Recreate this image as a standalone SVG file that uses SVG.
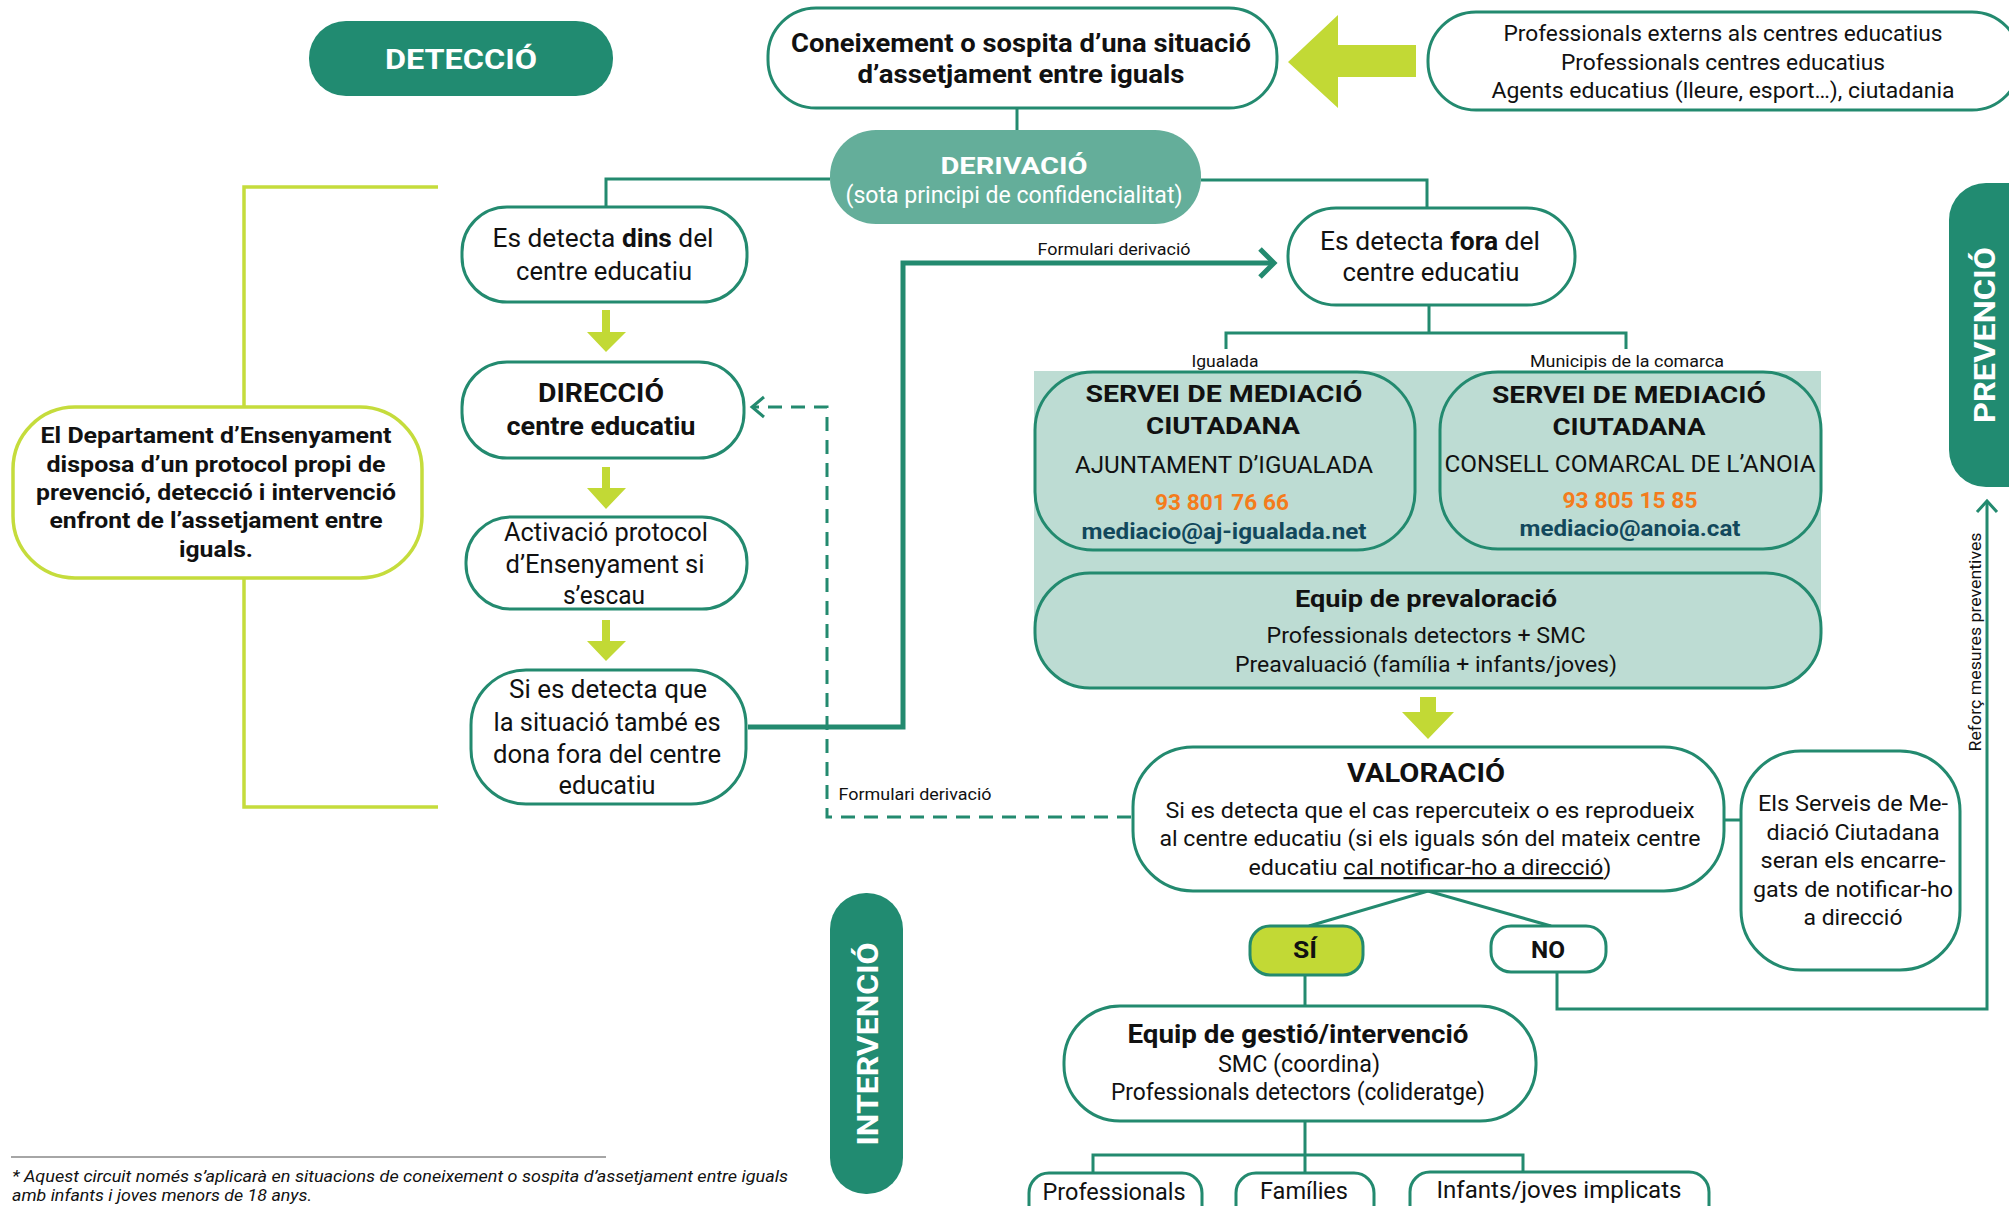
<svg xmlns="http://www.w3.org/2000/svg" width="2009" height="1206" viewBox="0 0 2009 1206">
<style>
.box{fill:#fff;stroke:#238a6f;stroke-width:3}
.bgf{fill:#bddcd3}
.boxbg{fill:#bddcd3;stroke:#238a6f;stroke-width:3}
.conn{fill:none;stroke:#238a6f;stroke-width:3}
.thick{fill:none;stroke:#238a6f;stroke-width:5}
.dash{fill:none;stroke:#238a6f;stroke-width:3;stroke-dasharray:14 9}
.lime{fill:#c2d935}
.bracket{fill:none;stroke:#c5dc3c;stroke-width:3.5}
.dark{fill:#218b71}
.mid{fill:#64ae9a}
text{font-family:Roboto,'Liberation Sans',sans-serif;fill:#111;text-anchor:middle}
.b{font-weight:700}
.w{fill:#fff}
.or{fill:#f47c1c}
.em{fill:#12485c}
.lbl{font-size:17px}
</style>

<g id="bracket">
<path class="bracket" d="M438,187 H244 V407 M244,578 V807 H438"/>
</g>

<g id="connectors">
<path class="conn" d="M1017,108 V130"/>
<path class="conn" d="M830,179 H606 V207"/>
<path class="conn" d="M1201,180 H1427 V208"/>
<path class="conn" d="M1429,305 V333 M1226,349 V333 H1626 V349"/>
<path class="conn" d="M1309,926 L1428,891 L1551,926"/>
<path class="conn" d="M1305,975 V1006"/>
<path class="conn" d="M1305,1121 V1173 M1093,1173 V1155 H1523 V1173"/>
<path class="conn" d="M1725,820 H1741"/>
<path class="conn" d="M1557,972 V1009 H1987 V503"/>
<path class="conn" d="M1977,512 L1987,501 L1997,512"/>
<path class="thick" d="M748,727 H903 V263 H1272"/>
<path class="thick" d="M1260,249 L1274,263 L1260,277"/>
<path class="dash" d="M1131,817 H827 V407 H754"/>
<path class="conn" d="M764,397 L752,407 L764,417"/>
<text class="lbl" x="1114" y="255" textLength="153" lengthAdjust="spacingAndGlyphs">Formulari derivació</text>
<text class="lbl" x="915" y="800" textLength="153" lengthAdjust="spacingAndGlyphs">Formulari derivació</text>
<text class="lbl" x="1225" y="367" textLength="67" lengthAdjust="spacingAndGlyphs">Igualada</text>
<text class="lbl" x="1627" y="367" textLength="194" lengthAdjust="spacingAndGlyphs">Municipis de la comarca</text>
<text class="lbl" transform="translate(1981,642) rotate(-90)" x="0" y="0" textLength="219" lengthAdjust="spacingAndGlyphs">Reforç mesures preventives</text>
<polygon class="lime" points="1288,62 1338,15 1338,45 1416,45 1416,77 1338,77 1338,108"/>
<polygon class="lime" points="602,310 610,310 610,332 626,332 606,352 587,332 602,332"/>
<polygon class="lime" points="602,467 610,467 610,488 626,488 606,509 587,488 602,488"/>
<polygon class="lime" points="602,620 610,620 610,641 626,641 606,661 587,641 602,641"/>
<polygon class="lime" points="1420,697 1436,697 1436,712 1454,712 1428,739 1402,712 1420,712"/>
</g>

<g id="detectio">
<rect class="dark" x="309" y="21" width="304" height="75" rx="37"/>
<text class="b w" x="461" y="69" font-size="28" textLength="152" lengthAdjust="spacingAndGlyphs">DETECCIÓ</text>
</g>

<g id="coneixement">
<rect class="box" x="768" y="8" width="509" height="100" rx="48"/>
<text class="b" x="1021" y="52" font-size="26" textLength="460" lengthAdjust="spacingAndGlyphs">Coneixement o sospita d’una situació</text>
<text class="b" x="1021" y="83" font-size="26" textLength="327" lengthAdjust="spacingAndGlyphs">d’assetjament entre iguals</text>
</g>

<g id="professionals">
<rect class="box" x="1428" y="12" width="592" height="98" rx="48"/>
<text x="1723" y="41" font-size="22" textLength="439" lengthAdjust="spacingAndGlyphs">Professionals externs als centres educatius</text>
<text x="1723" y="70" font-size="22" textLength="324" lengthAdjust="spacingAndGlyphs">Professionals centres educatius</text>
<text x="1723" y="98" font-size="22" textLength="463" lengthAdjust="spacingAndGlyphs">Agents educatius (lleure, esport…), ciutadania</text>
</g>

<g id="derivacio">
<rect class="mid" x="830" y="130" width="371" height="94" rx="46"/>
<text class="b w" x="1014" y="174" font-size="24" textLength="147" lengthAdjust="spacingAndGlyphs">DERIVACIÓ</text>
<text class="w" x="1014" y="203" font-size="23" textLength="337" lengthAdjust="spacingAndGlyphs">(sota principi de confidencialitat)</text>
</g>

<g id="dins">
<rect class="box" x="462" y="207" width="285" height="95" rx="45"/>
<text x="603" y="247" font-size="25" textLength="221" lengthAdjust="spacingAndGlyphs">Es detecta <tspan class="b">dins</tspan> del</text>
<text x="604" y="280" font-size="25" textLength="176" lengthAdjust="spacingAndGlyphs">centre educatiu</text>
</g>

<g id="direccio">
<rect class="box" x="462" y="362" width="282" height="96" rx="45"/>
<text class="b" x="601" y="402" font-size="25" textLength="126" lengthAdjust="spacingAndGlyphs">DIRECCIÓ</text>
<text class="b" x="601" y="435" font-size="25" textLength="189" lengthAdjust="spacingAndGlyphs">centre educatiu</text>
</g>

<g id="activacio">
<rect class="box" x="466" y="517" width="281" height="92" rx="45"/>
<text x="606" y="541" font-size="25" textLength="204" lengthAdjust="spacingAndGlyphs">Activació protocol</text>
<text x="605" y="573" font-size="25" textLength="199" lengthAdjust="spacingAndGlyphs">d’Ensenyament si</text>
<text x="604" y="604" font-size="25" textLength="82" lengthAdjust="spacingAndGlyphs">s’escau</text>
</g>

<g id="fora-tambe">
<rect class="box" x="471" y="670" width="275" height="134" rx="55"/>
<text x="608" y="698" font-size="25" textLength="198" lengthAdjust="spacingAndGlyphs">Si es detecta que</text>
<text x="607" y="731" font-size="25" textLength="227" lengthAdjust="spacingAndGlyphs">la situació també es</text>
<text x="607" y="763" font-size="25" textLength="228" lengthAdjust="spacingAndGlyphs">dona fora del centre</text>
<text x="607" y="794" font-size="25" textLength="97" lengthAdjust="spacingAndGlyphs">educatiu</text>
</g>

<g id="departament">
<rect x="13" y="407" width="409" height="171" rx="62" fill="#fff" stroke="#c5dc3c" stroke-width="3.5"/>
<text class="b" x="216" y="443" font-size="22" textLength="351" lengthAdjust="spacingAndGlyphs">El Departament d’Ensenyament</text>
<text class="b" x="216" y="472" font-size="22" textLength="339" lengthAdjust="spacingAndGlyphs">disposa d’un protocol propi de</text>
<text class="b" x="216" y="500" font-size="22" textLength="360" lengthAdjust="spacingAndGlyphs">prevenció, detecció i intervenció</text>
<text class="b" x="216" y="528" font-size="22" textLength="333" lengthAdjust="spacingAndGlyphs">enfront de l’assetjament entre</text>
<text class="b" x="216" y="557" font-size="22" textLength="74" lengthAdjust="spacingAndGlyphs">iguals.</text>
</g>

<g id="fora">
<rect class="box" x="1288" y="208" width="287" height="97" rx="48"/>
<text x="1430" y="250" font-size="25" textLength="220" lengthAdjust="spacingAndGlyphs">Es detecta <tspan class="b">fora</tspan> del</text>
<text x="1431" y="281" font-size="25" textLength="177" lengthAdjust="spacingAndGlyphs">centre educatiu</text>
</g>

<g id="smc-zone">
<rect class="bgf" x="1034" y="371" width="787" height="262"/>
</g>

<g id="smc-igualada">
<rect class="boxbg" x="1035" y="372" width="380" height="178" rx="58"/>
<text class="b" x="1224" y="402" font-size="24" textLength="277" lengthAdjust="spacingAndGlyphs">SERVEI DE MEDIACIÓ</text>
<text class="b" x="1223" y="434" font-size="24" textLength="154" lengthAdjust="spacingAndGlyphs">CIUTADANA</text>
<text x="1224" y="473" font-size="23" textLength="298" lengthAdjust="spacingAndGlyphs">AJUNTAMENT D’IGUALADA</text>
<text class="b or" x="1222" y="510" font-size="22" textLength="134" lengthAdjust="spacingAndGlyphs">93 801 76 66</text>
<text class="b em" x="1224" y="539" font-size="22" textLength="285" lengthAdjust="spacingAndGlyphs">mediacio@aj-igualada.net</text>
</g>

<g id="smc-anoia">
<rect class="boxbg" x="1440" y="372" width="381" height="177" rx="58"/>
<text class="b" x="1629" y="403" font-size="24" textLength="274" lengthAdjust="spacingAndGlyphs">SERVEI DE MEDIACIÓ</text>
<text class="b" x="1629" y="435" font-size="24" textLength="153" lengthAdjust="spacingAndGlyphs">CIUTADANA</text>
<text x="1630" y="472" font-size="23" textLength="371" lengthAdjust="spacingAndGlyphs">CONSELL COMARCAL DE L’ANOIA</text>
<text class="b or" x="1630" y="508" font-size="22" textLength="135" lengthAdjust="spacingAndGlyphs">93 805 15 85</text>
<text class="b em" x="1630" y="536" font-size="22" textLength="221" lengthAdjust="spacingAndGlyphs">mediacio@anoia.cat</text>
</g>

<g id="prevaloracio">
<rect class="boxbg" x="1035" y="573" width="786" height="115" rx="55"/>
<text class="b" x="1426" y="607" font-size="24" textLength="262" lengthAdjust="spacingAndGlyphs">Equip de prevaloració</text>
<text x="1426" y="643" font-size="22" textLength="319" lengthAdjust="spacingAndGlyphs">Professionals detectors + SMC</text>
<text x="1426" y="672" font-size="22" textLength="382" lengthAdjust="spacingAndGlyphs">Preavaluació (família + infants/joves)</text>
</g>

<g id="valoracio">
<rect class="box" x="1133" y="747" width="591" height="144" rx="60"/>
<text class="b" x="1426" y="782" font-size="25" textLength="158" lengthAdjust="spacingAndGlyphs">VALORACIÓ</text>
<text x="1430" y="818" font-size="22" textLength="529" lengthAdjust="spacingAndGlyphs">Si es detecta que el cas repercuteix o es reprodueix</text>
<text x="1430" y="846" font-size="22" textLength="541" lengthAdjust="spacingAndGlyphs">al centre educatiu (si els iguals són del mateix centre</text>
<text x="1430" y="875" font-size="22" textLength="363" lengthAdjust="spacingAndGlyphs">educatiu <tspan text-decoration="underline">cal notificar-ho a direcció</tspan>)</text>
</g>

<g id="serveis-notificar">
<rect class="box" x="1741" y="751" width="219" height="219" rx="60"/>
<text x="1853" y="811" font-size="22" textLength="190" lengthAdjust="spacingAndGlyphs">Els Serveis de Me-</text>
<text x="1853" y="840" font-size="22" textLength="173" lengthAdjust="spacingAndGlyphs">diació Ciutadana</text>
<text x="1853" y="868" font-size="22" textLength="185" lengthAdjust="spacingAndGlyphs">seran els encarre-</text>
<text x="1853" y="897" font-size="22" textLength="200" lengthAdjust="spacingAndGlyphs">gats de notificar-ho</text>
<text x="1853" y="925" font-size="22" textLength="99" lengthAdjust="spacingAndGlyphs">a direcció</text>
</g>

<g id="si">
<rect x="1250" y="926" width="113" height="49" rx="20" fill="#c2d935" stroke="#238a6f" stroke-width="3"/>
<text class="b" x="1305" y="958" font-size="24" textLength="24" lengthAdjust="spacingAndGlyphs">SÍ</text>
</g>

<g id="no">
<rect class="box" x="1491" y="926" width="115" height="46" rx="20"/>
<text class="b" x="1548" y="958" font-size="24" textLength="34" lengthAdjust="spacingAndGlyphs">NO</text>
</g>

<g id="gestio">
<rect class="box" x="1064" y="1006" width="472" height="115" rx="56"/>
<text class="b" x="1298" y="1043" font-size="25" textLength="341" lengthAdjust="spacingAndGlyphs">Equip de gestió/intervenció</text>
<text x="1299" y="1072" font-size="23" textLength="162" lengthAdjust="spacingAndGlyphs">SMC (coordina)</text>
<text x="1298" y="1100" font-size="23" textLength="374" lengthAdjust="spacingAndGlyphs">Professionals detectors (colideratge)</text>
</g>

<g id="professionals-b">
<rect class="box" x="1029" y="1173" width="173" height="60" rx="20"/>
<text x="1114" y="1200" font-size="24" textLength="143" lengthAdjust="spacingAndGlyphs">Professionals</text>
</g>
<g id="families">
<rect class="box" x="1236" y="1173" width="138" height="60" rx="20"/>
<text x="1304" y="1199" font-size="24" textLength="88" lengthAdjust="spacingAndGlyphs">Famílies</text>
</g>
<g id="infants">
<rect class="box" x="1410" y="1172" width="299" height="60" rx="20"/>
<text x="1559" y="1198" font-size="24" textLength="245" lengthAdjust="spacingAndGlyphs">Infants/joves implicats</text>
</g>

<g id="intervencio">
<rect class="dark" x="830" y="893" width="73" height="301" rx="36"/>
<text class="b w" transform="translate(867,1044) rotate(-90)" x="0" y="11" font-size="30" textLength="203" lengthAdjust="spacingAndGlyphs">INTERVENCIÓ</text>
</g>

<g id="prevencio">
<rect class="dark" x="1949" y="183" width="100" height="304" rx="37"/>
<text class="b w" transform="translate(1984,335) rotate(-90)" x="0" y="11" font-size="30" textLength="176" lengthAdjust="spacingAndGlyphs">PREVENCIÓ</text>
</g>

<g id="footnote">
<line x1="11" y1="1157" x2="606" y2="1157" stroke="#888" stroke-width="1.5"/>
<text x="12" y="1182" font-size="17" font-style="italic" style="text-anchor:start" textLength="776" lengthAdjust="spacingAndGlyphs">* Aquest circuit només s’aplicarà en situacions de coneixement o sospita d’assetjament entre iguals</text>
<text x="12" y="1201" font-size="17" font-style="italic" style="text-anchor:start" textLength="300" lengthAdjust="spacingAndGlyphs">amb infants i joves menors de 18 anys.</text>
</g>
</svg>
